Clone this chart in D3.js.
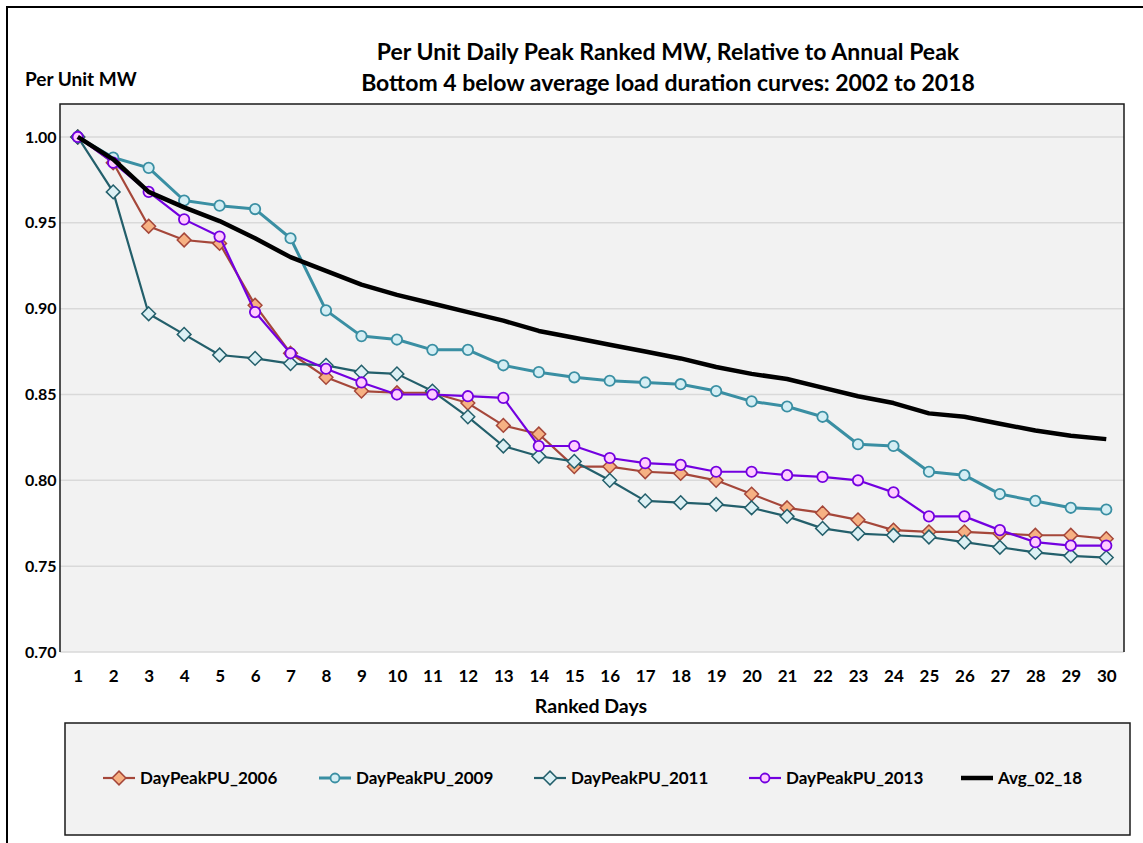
<!DOCTYPE html>
<html>
<head>
<meta charset="utf-8">
<script src="https://cdn.jsdelivr.net/npm/d3@7"></script>
<style>
  body { margin: 0; background: #ffffff; }
  svg text { font-family: Lato, "Liberation Sans", sans-serif; font-weight: bold; fill: #000; }
</style>
</head>
<body>
<div id="vis"></div>
<script>
// ranked days 1..30
var days = d3.range(1, 31);

var pu2006 = [1.000, 0.985, 0.948, 0.940, 0.938, 0.902, 0.874, 0.860, 0.852, 0.851,
              0.851, 0.845, 0.832, 0.827, 0.808, 0.808, 0.805, 0.804, 0.800, 0.792,
              0.784, 0.781, 0.777, 0.771, 0.770, 0.770, 0.769, 0.768, 0.768, 0.766];
var pu2009 = [1.000, 0.988, 0.982, 0.963, 0.960, 0.958, 0.941, 0.899, 0.884, 0.882,
              0.876, 0.876, 0.867, 0.863, 0.860, 0.858, 0.857, 0.856, 0.852, 0.846,
              0.843, 0.837, 0.821, 0.820, 0.805, 0.803, 0.792, 0.788, 0.784, 0.783];
var pu2011 = [1.000, 0.968, 0.897, 0.885, 0.873, 0.871, 0.868, 0.867, 0.863, 0.862,
              0.852, 0.837, 0.820, 0.814, 0.811, 0.800, 0.788, 0.787, 0.786, 0.784,
              0.779, 0.772, 0.769, 0.768, 0.767, 0.764, 0.761, 0.758, 0.756, 0.755];
var pu2013 = [1.000, 0.985, 0.968, 0.952, 0.942, 0.898, 0.874, 0.865, 0.857, 0.850,
              0.850, 0.849, 0.848, 0.820, 0.820, 0.813, 0.810, 0.809, 0.805, 0.805,
              0.803, 0.802, 0.800, 0.793, 0.779, 0.779, 0.771, 0.764, 0.762, 0.762];
var avg0218 = [1.000, 0.987, 0.968, 0.959, 0.951, 0.941, 0.930, 0.922, 0.914, 0.908,
               0.903, 0.898, 0.893, 0.887, 0.883, 0.879, 0.875, 0.871, 0.866, 0.862,
               0.859, 0.854, 0.849, 0.845, 0.839, 0.837, 0.833, 0.829, 0.826, 0.824];

var yTicks = [0.70, 0.75, 0.80, 0.85, 0.90, 0.95, 1.00];

var series = [
    {name: "DayPeakPU_2006", values: pu2006, stroke: "#A5473A", fill: "#F6B183", marker: "diamond", width: 2.2},
    {name: "DayPeakPU_2009", values: pu2009, stroke: "#3A8FA3", fill: "#D4EEF4", marker: "circle", width: 3},
    {name: "DayPeakPU_2011", values: pu2011, stroke: "#235F6B", fill: "#DCF0F4", marker: "diamond", width: 2.2},
    {name: "DayPeakPU_2013", values: pu2013, stroke: "#7300E0", fill: "#FFCCFF", marker: "circle", width: 2.2},
    {name: "Avg_02_18", values: avg0218, stroke: "#000000", fill: "none", marker: null, width: 4.5}
];

var width = 1143, height = 843;
var plot = {left: 60, top: 104, right: 1124, bottom: 652};

var svg = d3.select("#vis").append("svg")
    .attr("width", width)
    .attr("height", height);

// outer frame
svg.append("rect")
    .attr("x", 7).attr("y", 7)
    .attr("width", width + 10).attr("height", height + 10)
    .attr("fill", "#fff")
    .attr("stroke", "#000").attr("stroke-width", 2);

var x = d3.scalePoint()
    .domain(days)
    .range([plot.left, plot.right])
    .padding(0.5);

var y = d3.scaleLinear()
    .domain([0.70, 1.0192])
    .range([plot.bottom, plot.top]);

// plot background
svg.append("rect")
    .attr("x", plot.left).attr("y", plot.top)
    .attr("width", plot.right - plot.left).attr("height", plot.bottom - plot.top)
    .attr("fill", "#F2F2F2");

// gridlines
svg.append("g").selectAll("line")
    .data(yTicks)
    .enter().append("line")
    .attr("x1", plot.left).attr("x2", plot.right)
    .attr("y1", function(d){ return y(d); })
    .attr("y2", function(d){ return y(d); })
    .attr("stroke", "#D9D9D9").attr("stroke-width", 1.5);

// plot border (top, left, right)
svg.append("path")
    .attr("d", "M" + plot.left + "," + plot.bottom + "V" + plot.top + "H" + plot.right + "V" + plot.bottom)
    .attr("fill", "none")
    .attr("stroke", "#1a1a1a").attr("stroke-width", 1.5);

// axes
var yAxis = svg.append("g")
    .attr("transform", "translate(" + (plot.left - 4) + ",0)")
    .call(d3.axisLeft(y).tickValues(yTicks).tickFormat(d3.format(".2f")).tickSize(0));
yAxis.select(".domain").remove();
yAxis.selectAll("text").attr("x", -31).attr("text-anchor", "start").style("font-size", "16px").style("font-family", "Lato, sans-serif");

var xAxis = svg.append("g")
    .attr("transform", "translate(0," + plot.bottom + ")")
    .call(d3.axisBottom(x).tickSize(0));
xAxis.select(".domain").remove();
xAxis.selectAll("text").attr("dy", "0").attr("y", 30).style("font-size", "17px").style("font-family", "Lato, sans-serif");

// lines and markers
var line = d3.line()
    .x(function(d, i){ return x(days[i]); })
    .y(function(d){ return y(d); });

var diamond = d3.symbol().type(d3.symbolDiamond2).size(120);

series.forEach(function(s){
    var g = svg.append("g");
    g.append("path")
        .datum(s.values)
        .attr("d", line)
        .attr("fill", "none")
        .attr("stroke", s.stroke)
        .attr("stroke-width", s.width)
        .attr("stroke-linejoin", "round");
    if (s.marker === "circle"){
        g.selectAll("circle").data(s.values).enter().append("circle")
            .attr("cx", function(d, i){ return x(days[i]); })
            .attr("cy", function(d){ return y(d); })
            .attr("r", 5.2)
            .attr("fill", s.fill).attr("stroke", s.stroke).attr("stroke-width", 1.8);
    } else if (s.marker === "diamond"){
        g.selectAll("path.m").data(s.values).enter().append("path")
            .attr("class", "m")
            .attr("transform", function(d, i){ return "translate(" + x(days[i]) + "," + y(d) + ")"; })
            .attr("d", diamond)
            .attr("fill", s.fill).attr("stroke", s.stroke).attr("stroke-width", 1.5);
    }
});

// titles
svg.append("text").attr("x", 668).attr("y", 60).attr("text-anchor", "middle")
    .style("font-size", "23px").text("Per Unit Daily Peak Ranked MW, Relative to Annual Peak");
svg.append("text").attr("x", 668).attr("y", 91).attr("text-anchor", "middle")
    .style("font-size", "23px").text("Bottom 4 below average load duration curves: 2002 to 2018");
svg.append("text").attr("x", 25).attr("y", 86)
    .style("font-size", "19px").text("Per Unit MW");
svg.append("text").attr("x", 591).attr("y", 713).attr("text-anchor", "middle")
    .style("font-size", "19.5px").text("Ranked Days");

// legend
var legend = {left: 65, top: 723, right: 1130, bottom: 835};
svg.append("rect")
    .attr("x", legend.left).attr("y", legend.top)
    .attr("width", legend.right - legend.left).attr("height", legend.bottom - legend.top)
    .attr("fill", "#F2F2F2").attr("stroke", "#1a1a1a").attr("stroke-width", 1.5);

var legendX = [103, 319, 534, 749, 961];
var ly = 778;
series.forEach(function(s, i){
    var g = svg.append("g").attr("transform", "translate(" + legendX[i] + "," + ly + ")");
    g.append("line").attr("x1", 0).attr("x2", 32).attr("y1", 0).attr("y2", 0)
        .attr("stroke", s.stroke).attr("stroke-width", s.width);
    if (s.marker === "circle"){
        g.append("circle").attr("cx", 16).attr("cy", 0).attr("r", 4.5)
            .attr("fill", s.fill).attr("stroke", s.stroke).attr("stroke-width", 1.8);
    } else if (s.marker === "diamond"){
        g.append("path").attr("transform", "translate(16,0)").attr("d", diamond)
            .attr("fill", s.fill).attr("stroke", s.stroke).attr("stroke-width", 1.5);
    }
    g.append("text").attr("x", 37).attr("y", 6).style("font-size", "17px").text(s.name);
});
</script>
</body>
</html>
